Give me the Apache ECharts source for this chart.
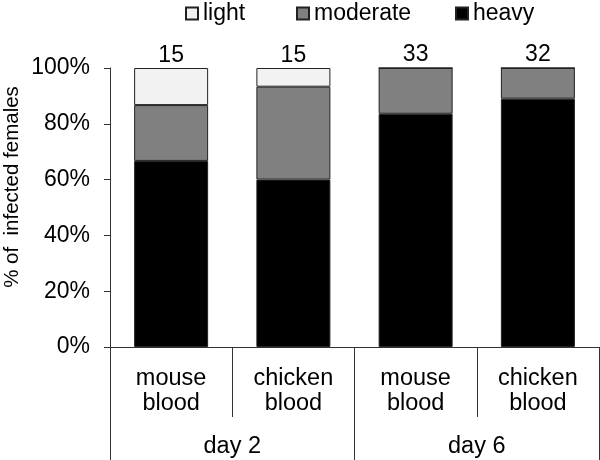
<!DOCTYPE html>
<html>
<head>
<meta charset="utf-8">
<script src="https://cdn.jsdelivr.net/npm/echarts@6/dist/echarts.min.js"></script>
<style>html,body{margin:0;padding:0;background:#fff}#c{width:600px;height:460px}</style>
</head>
<body>
<div id="c"></div>
<script>
var categories = ['mouse\nblood', 'chicken\nblood', 'mouse\nblood', 'chicken\nblood'];
var groups = ['day 2', 'day 6'];
var heavy = [66.7, 60.0, 83.6, 89.0];
var moderate = [20.0, 33.3, 16.4, 11.0];
var light = [13.3, 6.7, 0, 0];
var totals = [15, 15, 33, 32];
var yTicks = [0, 20, 40, 60, 80, 100];

var FONT = 'Liberation Sans, Arial, Helvetica, sans-serif';
var axisColor = '#333';
var chart = echarts.init(document.getElementById('c'), null, {renderer: 'canvas'});

function barStyle(color) {
  return {color: color, borderColor: '#222', borderWidth: 1};
}
var legendText = {fontSize: 23, color: '#000', fontFamily: FONT};

var option = {
  animation: false,
  textStyle: {fontFamily: FONT, color: '#000'},
  legend: [
    {data: ['light'], left: 185, top: 2, padding: 0, itemWidth: 12, itemHeight: 12, icon: 'rect', textStyle: legendText},
    {data: ['moderate'], left: 296, top: 2, padding: 0, itemWidth: 12, itemHeight: 12, icon: 'rect', textStyle: legendText},
    {data: ['heavy'], left: 455, top: 2, padding: 0, itemWidth: 12, itemHeight: 12, icon: 'rect', textStyle: legendText}
  ],
  grid: {left: 110, top: 68, width: 489, height: 279, containLabel: false},
  xAxis: [
    {
      type: 'category', data: categories, position: 'bottom',
      axisLine: {show: true, lineStyle: {color: axisColor, width: 1}},
      axisTick: {show: true, interval: 0, length: 70, lineStyle: {color: axisColor, width: 1}},
      axisLabel: {interval: 0, margin: 19, fontSize: 23.5, lineHeight: 25, color: '#000', fontFamily: FONT}
    },
    {
      type: 'category', data: groups, position: 'bottom',
      axisLine: {show: false},
      axisTick: {show: true, interval: 0, length: 113, lineStyle: {color: axisColor, width: 1}},
      axisLabel: {interval: 0, margin: 87, fontSize: 23.5, lineHeight: 25, color: '#000', fontFamily: FONT}
    }
  ],
  yAxis: {
    type: 'value', min: 0, max: 100, interval: 20,
    axisLine: {show: true, lineStyle: {color: axisColor, width: 1}},
    axisTick: {show: true, length: 6, inside: false, lineStyle: {color: axisColor, width: 1}},
    splitLine: {show: false},
    axisLabel: {margin: 20, fontSize: 23, color: '#000', fontFamily: FONT, formatter: '{value}%'}
  },
  graphic: [{
    type: 'text', x: 12, y: 187, rotation: Math.PI / 2,
    style: {text: '% of  infected females', fontSize: 20.5, fontFamily: FONT, fill: '#000',
            align: 'center', verticalAlign: 'middle'}
  }],
  series: [
    {name: 'heavy', type: 'bar', stack: 's', barWidth: 74, data: heavy, itemStyle: barStyle('#000000')},
    {name: 'moderate', type: 'bar', stack: 's', barWidth: 74, data: moderate, itemStyle: barStyle('#808080')},
    {name: 'light', type: 'bar', stack: 's', barWidth: 74, data: light, itemStyle: barStyle('#f2f2f2'),
     label: {show: true, position: 'top', distance: 1, fontSize: 23, color: '#000', fontFamily: FONT,
             formatter: function (p) { return String(totals[p.dataIndex]); }}}
  ]
};
chart.setOption(option);
</script>
</body>
</html>
